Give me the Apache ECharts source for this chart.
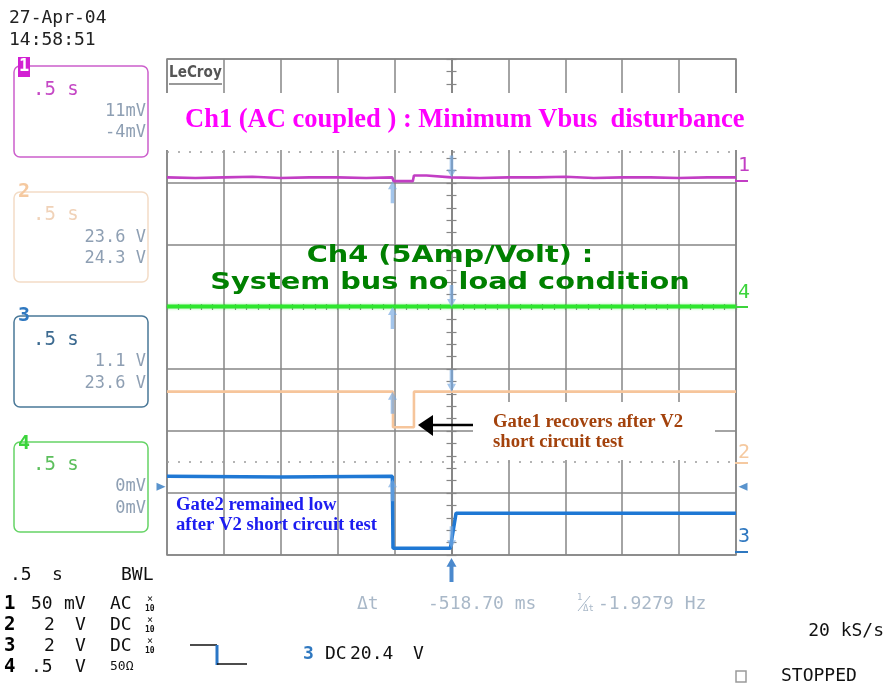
<!DOCTYPE html>
<html><head><meta charset="utf-8">
<script src="https://cdn.jsdelivr.net/npm/echarts@6/dist/echarts.min.js"></script>
<style>html,body{margin:0;padding:0;background:#fff}#c{width:885px;height:685px}</style>
</head><body><div id="c"></div>
<script>
// ---- data (time in s relative to trigger, 0.5 s/div; vertical in screen divisions) ----
const timeRange = [-2.5, 2.5];
const divRange = [-4, 4];
const cursorTimes = [-0.5187, 0];
const ch1Time = [-2.5,-2.25,-2.0,-1.75,-1.5,-1.25,-1.0,-0.75,-0.52,-0.51,-0.34,-0.33,-0.22,-0.21,0,0.25,0.5,0.75,1.0,1.25,1.5,1.75,2.0,2.25,2.5];
const ch1Vals = [2.09,2.08,2.09,2.10,2.08,2.09,2.09,2.08,2.09,2.03,2.03,2.12,2.12,2.09,2.09,2.08,2.09,2.09,2.10,2.08,2.09,2.09,2.08,2.09,2.09];
const ch4Time = [-2.5,-1.25,0,1.25,2.5];
const ch4Vals = [0.01,0.01,0.01,0.01,0.01];
const ch2Time = [-2.5,-0.514,-0.514,-0.33,-0.33,2.5];
const ch2Vals = [-1.365,-1.365,-1.94,-1.94,-1.365,-1.365];
const ch3Time = [-2.5,-1.5,-0.52,-0.514,-0.514,-0.01,0.04,1.0,2.5];
const ch3Vals = [-2.73,-2.74,-2.73,-2.73,-3.89,-3.89,-3.325,-3.325,-3.325];
const refLevels = [2.5, -2.5];
// cursor marker levels per channel at cursor 1 and cursor 2
const cur1Levels = [2.03, 0.0, -1.365, -2.78];
const cur2Levels = [2.09, 0.0, -1.365, -3.89];
const ch3TrigLevel = -2.9;

const zip = (a, b) => a.map((v, i) => [v, b[i]]);
const gridColor = '#868686';
const mono = '"DejaVu Sans Mono", monospace';
const serif = '"Liberation Serif", "Times New Roman", serif';

function T(x, y, text, fill, font, extra) {
  const o = {type: 'text', x: x, y: y, z: 60,
    style: {text: text, fill: fill, font: font, align: 'left', verticalAlign: 'middle'}};
  if (extra) {
    if (extra.style) Object.assign(o.style, extra.style);
    if (extra.el) Object.assign(o, extra.el);
  }
  return o;
}
function L(x1, y1, x2, y2, color, w, z) {
  return {type: 'line', z: z || 60, shape: {x1, y1, x2, y2}, style: {stroke: color, lineWidth: w || 1.5}};
}
function R(x, y, w, h, stroke, fill, r, z) {
  return {type: 'rect', z: z || 55, shape: {x, y, width: w, height: h, r: r || 0},
    style: {stroke: stroke || null, fill: fill || null, lineWidth: 1.5}};
}
const f18 = '18px ' + mono;
const f17 = '17px ' + mono;
const gb = '#8e9fb3';

const graphics = [
  // date/time
  T(9, 18, '27-Apr-04', '#222', f18),
  T(9, 40, '14:58:51', '#222', f18),
  // channel 1 box
  R(14, 66, 134, 91, '#cc5fcc', null, 6),
  R(18, 57, 12, 20, null, '#d21fd2', 0, 56),
  T(19, 67, '1', '#fff', 'bold 17px ' + mono),
  T(33, 90, '.5 s', '#c548c5', '19px ' + mono),
  T(146, 112, '11mV', gb, f17, {style: {align: 'right'}}),
  T(146, 133, '-4mV', gb, f17, {style: {align: 'right'}}),
  // channel 2 box
  R(14, 192, 134, 90, '#f3dcc6', null, 6),
  T(18, 192, '2', '#f5c9a0', 'bold 20px ' + mono),
  T(33, 215, '.5 s', '#f0d2b8', '19px ' + mono),
  T(146, 238, '23.6 V', gb, f17, {style: {align: 'right'}}),
  T(146, 259, '24.3 V', gb, f17, {style: {align: 'right'}}),
  // channel 3 box
  R(14, 316, 134, 91, '#4a7898', null, 6),
  T(18, 316, '3', '#2f78c0', 'bold 20px ' + mono),
  T(33, 340, '.5 s', '#3c6a90', '19px ' + mono),
  T(146, 362, '1.1 V', gb, f17, {style: {align: 'right'}}),
  T(146, 384, '23.6 V', gb, f17, {style: {align: 'right'}}),
  // channel 4 box
  R(14, 442, 134, 90, '#66d466', null, 6),
  T(18, 444, '4', '#3cd43c', 'bold 20px ' + mono),
  T(33, 465, '.5 s', '#5cbf5c', '19px ' + mono),
  T(146, 487, '0mV', gb, f17, {style: {align: 'right'}}),
  T(146, 509, '0mV', gb, f17, {style: {align: 'right'}}),
  // bottom-left settings
  T(10, 575, '.5', '#111', f18),
  T(52, 575, 's', '#111', f18),
  T(121, 575, 'BWL', '#111', f18),
  T(4, 604, '1', '#000', 'bold 19px ' + mono),
  T(31, 604, '50', '#111', f18), T(64, 604, 'mV', '#111', f18), T(110, 604, 'AC', '#111', f18),
  T(4, 625, '2', '#000', 'bold 19px ' + mono),
  T(44, 625, '2', '#111', f18), T(75, 625, 'V', '#111', f18), T(110, 625, 'DC', '#111', f18),
  T(4, 646, '3', '#000', 'bold 19px ' + mono),
  T(44, 646, '2', '#111', f18), T(75, 646, 'V', '#111', f18), T(110, 646, 'DC', '#111', f18),
  T(4, 667, '4', '#000', 'bold 19px ' + mono),
  T(31, 667, '.5', '#111', f18), T(75, 667, 'V', '#111', f18), T(110, 667, '50Ω', '#111', '13px ' + mono),
  T(147, 599, '×', '#111', '10px ' + mono), T(145, 609, '10', '#111', 'bold 8px ' + mono),
  T(147, 620, '×', '#111', '10px ' + mono), T(145, 630, '10', '#111', 'bold 8px ' + mono),
  T(147, 641, '×', '#111', '10px ' + mono), T(145, 651, '10', '#111', 'bold 8px ' + mono),
  // trigger icon
  L(190, 645, 217, 645, '#111', 1.5),
  L(217, 645, 217, 665, '#2a76c6', 3),
  L(217, 664, 247, 664, '#111', 1.5),
  T(303, 654, '3', '#2f78c0', 'bold 18px ' + mono),
  T(325, 654, 'DC', '#111', f18), T(350, 654, '20.4', '#111', f18), T(413, 654, 'V', '#111', f18),
  // cursor readout
  T(357, 604, 'Δt', '#a9b8c8', f18),
  T(428, 604, '-518.70 ms', '#a9b8c8', f18),
  T(577, 598, '1', '#a9b8c8', '9px ' + mono),
  L(578, 611, 590, 596, '#a9b8c8', 1),
  T(583, 609, 'Δt', '#a9b8c8', '9px ' + mono),
  T(598, 604, '-1.9279 Hz', '#a9b8c8', f18),
  T(884, 631, '20 kS/s', '#111', f18, {style: {align: 'right'}}),
  R(736, 671, 10, 11, '#9a9a9a', null, 0),
  T(781, 676, 'STOPPED', '#111', f18),
  // LeCroy logo
  T(169, 73, 'LeCroy', '#555', 'bold 16px "DejaVu Sans", sans-serif', {el: {scaleX: 0.85}}),
  L(169, 84, 222, 84, '#777', 1.5),
  // right-side channel labels
  T(738, 166, '1', '#c23ec4', '20px ' + mono), L(735, 181, 748, 181, '#c23ec4', 2),
  T(738, 293, '4', '#3cd43c', '20px ' + mono), L(735, 307, 748, 307, '#3cd43c', 2),
  T(738, 453, '2', '#f5c9a0', '20px ' + mono), L(735, 463, 748, 463, '#f5c9a0', 2),
  T(738, 537, '3', '#2f78c0', '20px ' + mono), L(735, 552, 748, 552, '#2f78c0', 2),
  // annotation: Ch1 title (white backing)
  R(160, 93, 600, 57, null, '#ffffff', 0, 50),
  T(185, 120, 'Ch1 (AC coupled ) : Minimum Vbus  disturbance', '#ff00ff', 'bold 26.5px ' + serif),
  // Ch4 annotation
  T(450, 256, 'Ch4 (5Amp/Volt) :', '#008000', 'bold 23px "DejaVu Sans", sans-serif',
    {style: {align: 'center'}, el: {scaleX: 1.25, originX: 0, originY: 0}}),
  T(450, 283, 'System bus no load condition', '#008000', 'bold 23px "DejaVu Sans", sans-serif',
    {style: {align: 'center'}, el: {scaleX: 1.25, originX: 0, originY: 0}}),
  // Gate1 annotation
  R(473, 402, 242, 58, null, '#ffffff', 0, 50),
  T(493, 422, 'Gate1 recovers after V2', '#a3420c', 'bold 18.7px ' + serif),
  T(493, 442, 'short circuit test', '#a3420c', 'bold 18.7px ' + serif),
  L(473, 425, 430, 425, '#000', 2.5, 62),
  {type: 'polygon', z: 62, shape: {points: [[418, 425], [433, 415], [433, 436]]}, style: {fill: '#000'}},
  // Gate2 annotation
  T(176, 505, 'Gate2 remained low', '#1c1cf0', 'bold 18.7px ' + serif),
  T(176, 525, 'after V2 short circuit test', '#1c1cf0', 'bold 18.7px ' + serif)
];

const hiddenAxis = {axisLabel: {show: false}, splitLine: {show: false}};
function centerAxis(pos, interval, len, range) {
  return Object.assign({type: 'value', min: range[0], max: range[1], interval: interval, position: pos,
    axisLine: {show: true, onZero: true, onZeroAxisIndex: 0, lineStyle: {color: gridColor, width: 1.5}},
    axisTick: {show: true, length: len, lineStyle: {color: gridColor, width: 1.2}}}, hiddenAxis);
}
const arrowPath = 'path://M5,0L10,8L7,8L7,22L3,22L3,8L0,8Z';

const option = {
  animation: false,
  backgroundColor: '#fff',
  grid: {left: 167, top: 59, width: 569, height: 496, show: true, borderColor: gridColor, borderWidth: 1.5, backgroundColor: 'transparent', containLabel: false},
  xAxis: [
    {type: 'value', min: timeRange[0], max: timeRange[1], interval: 0.5,
     axisLine: {show: false}, axisTick: {show: false}, axisLabel: {show: false},
     splitLine: {show: true, lineStyle: {color: gridColor, width: 1.5}}},
    centerAxis('bottom', 0.1, 3, timeRange),
    centerAxis('top', 0.1, 3, timeRange)
  ],
  yAxis: [
    {type: 'value', min: divRange[0], max: divRange[1], interval: 1,
     axisLine: {show: false}, axisTick: {show: false}, axisLabel: {show: false},
     splitLine: {show: true, lineStyle: {color: gridColor, width: 1.5}}},
    centerAxis('left', 0.2, 5, divRange),
    centerAxis('right', 0.2, 5, divRange)
  ],
  series: [
    {name: 'Ch4', type: 'line', data: zip(ch4Time, ch4Vals), showSymbol: false, z: 3,
     lineStyle: {color: '#2ee62e', width: 4, shadowColor: 'rgba(60,230,60,0.5)', shadowBlur: 3}},
    {name: 'Ch1', type: 'line', data: zip(ch1Time, ch1Vals), showSymbol: false, z: 4,
     lineStyle: {color: '#c23ec4', width: 2.6},
     markLine: {silent: true, symbol: ['none', 'none'], label: {show: false},
       lineStyle: {type: [2, 9], color: '#9c9c9c', width: 1.5},
       data: refLevels.map(v => ({yAxis: v}))}},
    {name: 'Ch2', type: 'line', data: zip(ch2Time, ch2Vals), showSymbol: false, z: 4,
     lineStyle: {color: '#f6c59b', width: 2.6}},
    {name: 'Ch3', type: 'line', data: zip(ch3Time, ch3Vals), showSymbol: false, z: 5,
     lineStyle: {color: '#1f78d4', width: 3.5}},
    {name: 'cursor1', type: 'scatter', z: 6, clip: false, symbol: arrowPath, symbolSize: [9, 22], symbolOffset: [0, 11],
     itemStyle: {color: 'rgba(120,170,225,0.85)'},
     data: cur1Levels.map(v => [cursorTimes[0], v])},
    {name: 'cursor2', type: 'scatter', z: 6, clip: false, symbol: arrowPath, symbolSize: [9, 22], symbolRotate: 180, symbolOffset: [0, -11],
     itemStyle: {color: 'rgba(120,170,225,0.85)'},
     data: cur2Levels.map(v => [cursorTimes[1], v])},
    {name: 'trigger', type: 'scatter', z: 6, clip: false, symbol: arrowPath, symbolSize: [10, 24], symbolOffset: [0, 15],
     itemStyle: {color: '#1e6cc0'}, data: [[cursorTimes[1], divRange[0]]]},
    {name: 'trigLevelL', type: 'scatter', z: 6, clip: false, symbol: 'triangle', symbolSize: [8, 9], symbolRotate: -90, symbolOffset: [-6, 0],
     itemStyle: {color: '#2f78c0'}, data: [[timeRange[0], ch3TrigLevel]]},
    {name: 'trigLevelR', type: 'scatter', z: 6, clip: false, symbol: 'triangle', symbolSize: [8, 9], symbolRotate: 90, symbolOffset: [7, 0],
     itemStyle: {color: '#2f78c0'}, data: [[timeRange[1], ch3TrigLevel]]}
  ],
  graphic: graphics
};
const chart = echarts.init(document.getElementById('c'));
chart.setOption(option);
</script></body></html>
